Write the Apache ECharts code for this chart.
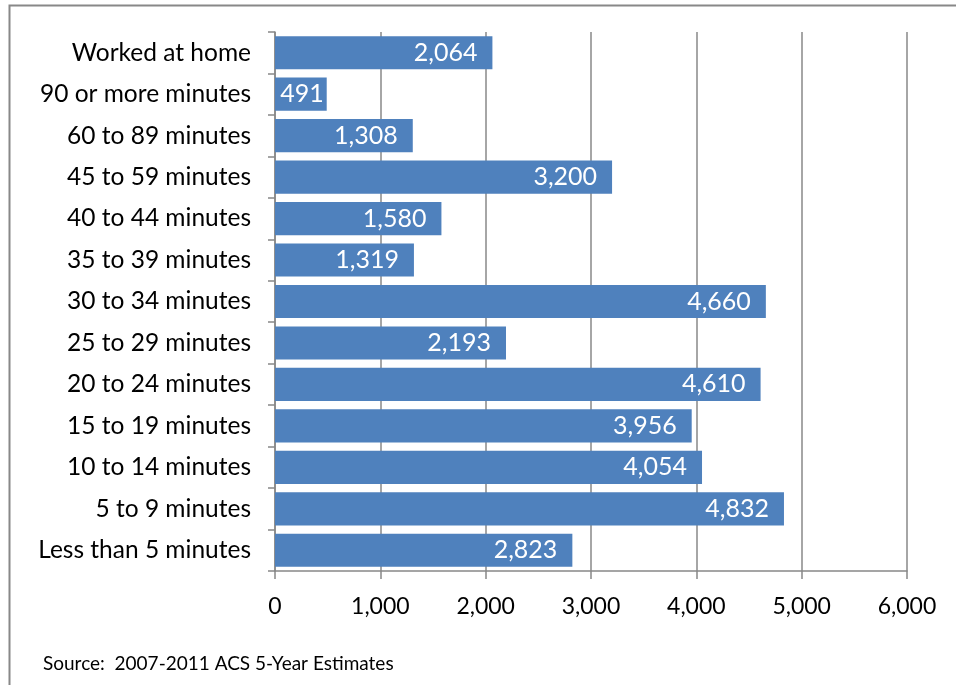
<!DOCTYPE html>
<html>
<head>
<meta charset="utf-8">
<script src="https://cdn.jsdelivr.net/npm/echarts@6/dist/echarts.min.js"></script>
<style>
  html, body { margin: 0; padding: 0; background: #fff; }
  #chart { width: 956px; height: 685px; }
</style>
</head>
<body>
<div id="chart"></div>
<script>
// categories bottom -> top, as the axis draws them
const categories = [
  'Less than 5 minutes', '5 to 9 minutes', '10 to 14 minutes', '15 to 19 minutes',
  '20 to 24 minutes', '25 to 29 minutes', '30 to 34 minutes', '35 to 39 minutes',
  '40 to 44 minutes', '45 to 59 minutes', '60 to 89 minutes', '90 or more minutes',
  'Worked at home'
];
const workers = [2823, 4832, 4054, 3956, 4610, 2193, 4660, 1319, 1580, 3200, 1308, 491, 2064];
const valueTicks = [0, 1000, 2000, 3000, 4000, 5000, 6000];
const sourceNote = 'Source:  2007-2011 ACS 5-Year Estimates';

const fontFamily = 'Lato, "Open Sans", sans-serif';

const myChart = echarts.init(document.getElementById('chart'));

// short bars keep their label tight against the bar end so it still fits inside
const barData = workers.map(v => (v < 800 ? { value: v, label: { distance: 3 } } : v));

const option = {
  animation: false,
  graphic: [
    {
      type: 'rect',
      left: 7, top: 3,
      shape: { width: 1000, height: 800 },
      style: { fill: 'none', stroke: '#888', lineWidth: 2 }
    },
    {
      type: 'text',
      left: 43, top: 654,
      style: { text: sourceNote, font: '19px ' + fontFamily, fill: '#000' }
    }
  ],
  grid: { left: 275, right: 49, top: 32, bottom: 114 },
  xAxis: {
    type: 'value',
    min: valueTicks[0],
    max: valueTicks[valueTicks.length - 1],
    interval: 1000,
    axisLine: { show: true, lineStyle: { color: '#888', width: 1.5 } },
    axisTick: { show: true, length: 8, lineStyle: { color: '#888', width: 1.5 } },
    splitLine: { show: true, lineStyle: { color: '#888', width: 1.5 } },
    axisLabel: {
      color: '#000', fontSize: 23, fontFamily: fontFamily, margin: 24,
      formatter: v => v.toLocaleString('en-US')
    }
  },
  yAxis: {
    type: 'category',
    data: categories,
    axisLine: { show: true, lineStyle: { color: '#888', width: 1.5 } },
    axisTick: { show: true, length: 7, lineStyle: { color: '#888', width: 1.5 } },
    axisLabel: { color: '#000', fontSize: 24.5, fontFamily: fontFamily, margin: 24 }
  },
  series: [
    {
      type: 'bar',
      data: barData,
      barCategoryGap: '20%',
      itemStyle: { color: '#4F81BD' },
      label: {
        show: true,
        position: 'insideRight',
        distance: 15,
        color: '#fff',
        fontSize: 25,
        fontFamily: fontFamily,
        formatter: p => p.value.toLocaleString('en-US')
      }
    }
  ]
};

option && myChart.setOption(option);
</script>
</body>
</html>
